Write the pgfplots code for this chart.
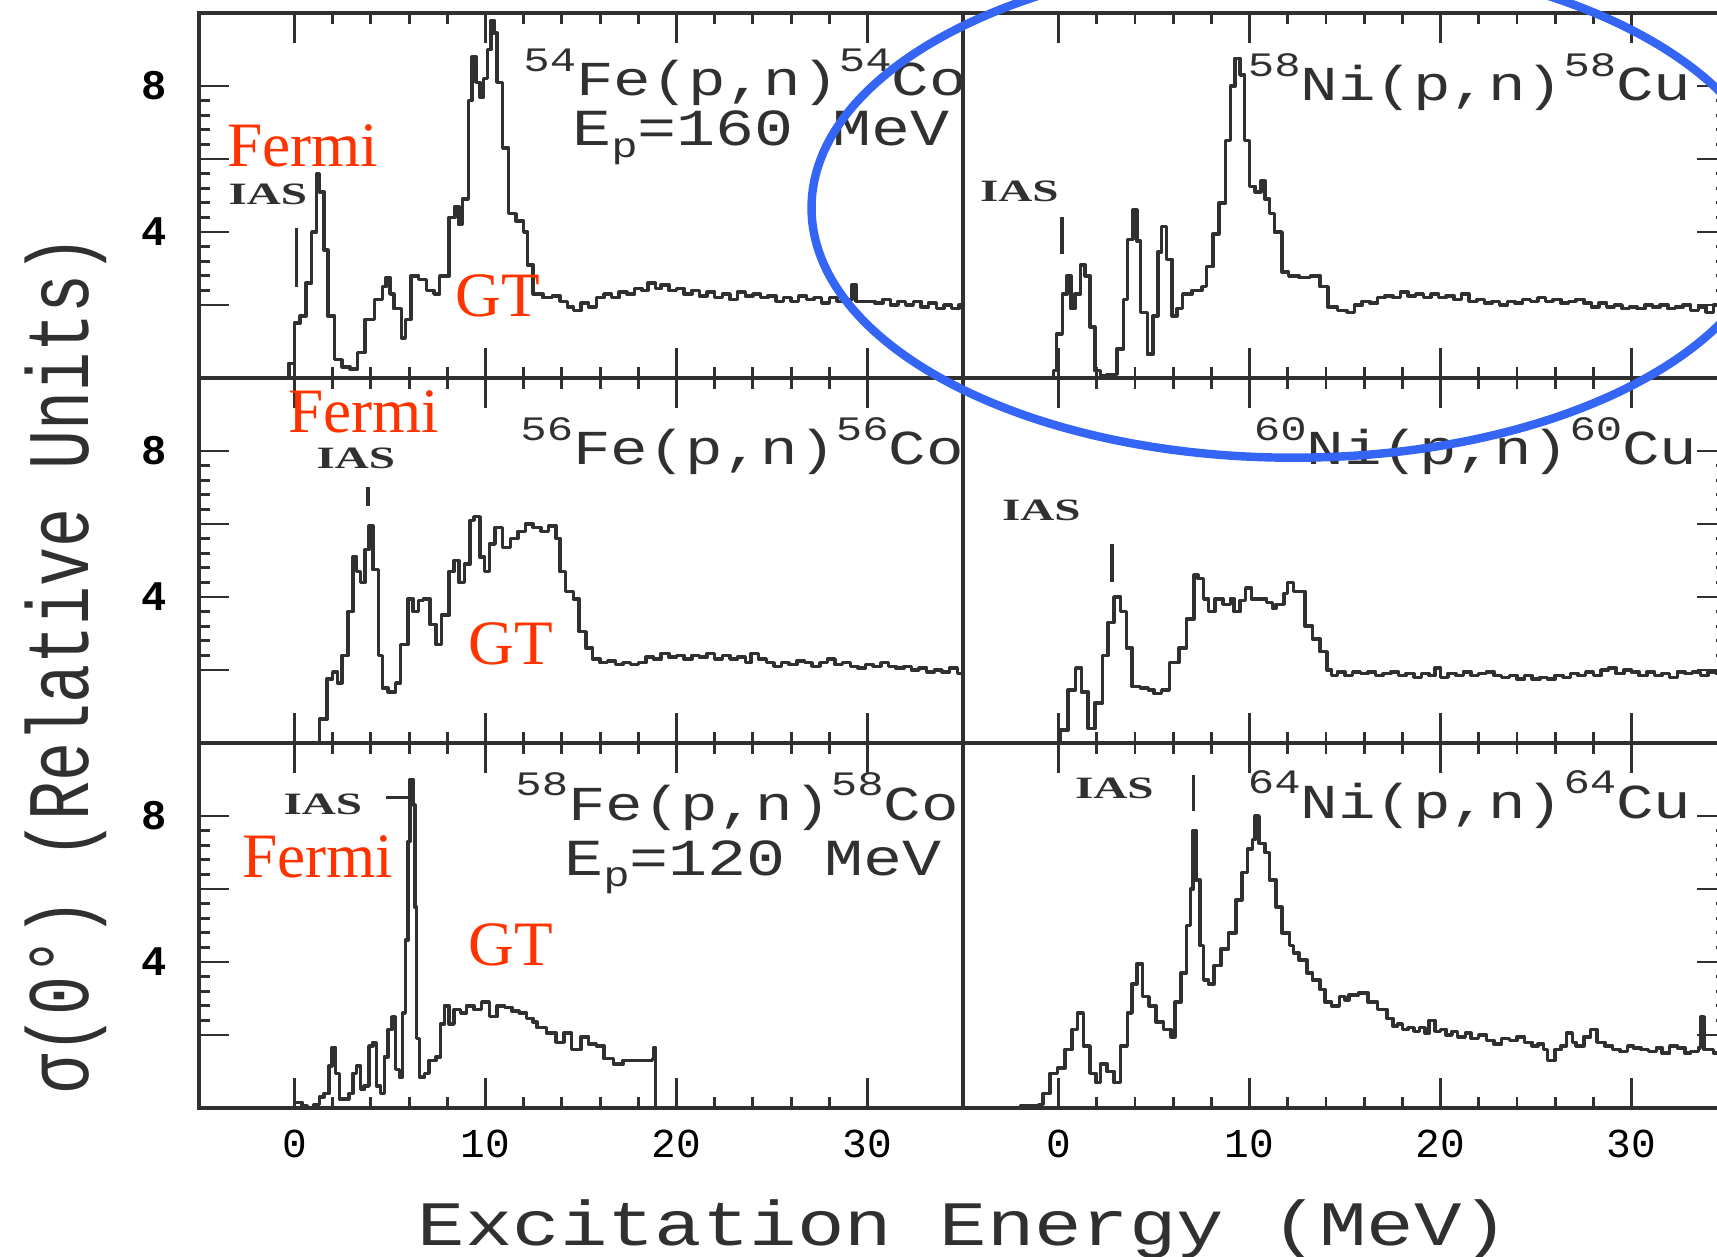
\documentclass[border=0pt]{standalone}
\usepackage{fontspec}
\setmainfont{Liberation Serif}
\newfontfamily\mono{Liberation Mono}
\usepackage{pgfplots}
\pgfplotsset{compat=1.18}

\definecolor{ink}{HTML}{303030}
\definecolor{note}{RGB}{255,51,0}
\definecolor{ring}{RGB}{52,101,245}

% superscript mass number, reaction label, beam energy
\newcommand\iso[1]{\raisebox{9pt}{\fontsize{12.5}{13}\selectfont #1}}
\newcommand\reac[4]{\scalebox{1}[0.78]{\mono\fontsize{17.8}{18}\selectfont\iso{#1}#2(p,n)\iso{#1}#3}}
\newcommand\beam[1]{\scalebox{1}[0.8]{\mono\fontsize{18.5}{19}\selectfont E\raisebox{-4pt}{\fontsize{12.5}{13}\selectfont p}=#1 MeV}}
\newcommand\ias{\scalebox{1}[0.66]{\bfseries\fontsize{13.4}{14}\selectfont IAS}}

\tikzset{mark line/.style={ink, line width=0.9pt}}
\pgfplotsset{
  panel/.style={
    scale only axis, width=7.64cm, height=3.65cm, anchor=south west,
    xmin=-5, xmax=35, ymin=0, ymax=10,
    xtick={0,10,20,30}, ytick={2,4,6,8}, minor tick num=4,
    tick align=inside, major tick length=0.3cm, minor tick length=0.11cm,
    axis line style={ink, line width=1.1pt},
    every tick/.style={ink, line width=0.8pt},
    xticklabels={}, yticklabels={},
    xticklabel style={font=\mono\fontsize{11.7}{12}\selectfont, yshift=-0.1cm},
    yticklabel style={font=\mono\bfseries\fontsize{12}{12}\selectfont, xshift=-0.2cm},
  },
  spec/.style={const plot, no marks, ink, line width=1pt, line join=round},
}

\begin{document}
\begin{tikzpicture}
% ---------- top left: 54Fe ----------
\begin{axis}[panel, at={(1.99cm,8.79cm)}, ytick pos=left, yticklabels={,4,,8}]
\addplot[spec] coordinates {
(-0.5,0) (-0.3,0.4) (0,1.5) (0.3,1.7) (0.6,2.6) (0.9,4.0) (1.15,5.6) (1.3,5.1)
(1.55,3.5) (1.75,1.7) (2.1,0.5) (2.5,0.3) (2.9,0.25) (3.3,0.7) (3.7,1.6) (4.2,2.15)
(4.6,2.5) (4.8,2.75) (5.0,2.3) (5.2,1.9) (5.6,1.1) (5.8,1.6) (6.1,2.8) (6.5,2.7)
(6.9,2.4) (7.3,2.3) (7.6,2.8) (8.1,4.4) (8.4,4.7) (8.6,4.2) (8.8,4.9) (9.1,7.6)
(9.3,8.8) (9.5,8.1) (9.7,7.7) (9.9,8.2) (10.1,9.0) (10.3,9.8) (10.45,9.45) (10.6,8.1)
(10.9,6.3) (11.2,4.5) (11.6,4.3) (12.0,4.0) (12.2,3.1) (12.5,2.3) (13.0,2.2) (13.5,2.25)
(13.9,2.1) (14.3,1.95) (14.6,1.85) (15.0,2.05) (15.4,1.95) (15.8,2.2) (16.2,2.3) (16.6,2.2)
(17.0,2.35) (17.4,2.3) (17.8,2.45) (18.2,2.4) (18.5,2.6) (18.9,2.45) (19.2,2.55) (19.6,2.4)
(20.0,2.45) (20.4,2.3) (20.8,2.4) (21.2,2.25) (21.6,2.35) (22.0,2.2) (22.4,2.3) (22.8,2.15)
(23.2,2.35) (23.6,2.25) (24.0,2.3) (24.4,2.2) (24.8,2.25) (25.2,2.1) (25.6,2.2) (26.0,2.1)
(26.4,2.25) (26.8,2.15) (27.2,2.2) (27.6,2.05) (28.0,2.2) (28.4,2.1) (28.8,2.15) (29.2,2.55)
(29.4,2.1) (30.0,2.1) (30.4,2.05) (30.8,2.15) (31.2,2.0) (31.6,2.1) (32.0,2.0) (32.4,2.1)
(32.8,1.95) (33.2,2.05) (33.6,1.9) (34.0,2.0) (34.4,1.9) (34.8,2.0) (35,2.4)};
\draw[mark line] (axis cs:0.1,2.5) -- (axis cs:0.1,4.1);
\end{axis}
% ---------- top right: 58Ni ----------
\begin{axis}[panel, at={(9.63cm,8.79cm)}, ytick pos=right]
\addplot[spec] coordinates {
(-0.5,0) (-0.25,0.2) (-0.1,1.2) (0.2,2.3) (0.45,2.8) (0.65,1.9) (0.85,2.3) (1.15,3.1)
(1.4,2.8) (1.65,1.4) (1.9,0.2) (2.2,0.05) (2.55,0.1) (3.05,0.8) (3.4,2.15) (3.6,3.8)
(3.9,4.6) (4.1,3.75) (4.3,1.8) (4.65,0.65) (4.95,1.7) (5.2,3.45) (5.4,4.15) (5.65,3.25)
(5.95,1.7) (6.2,1.9) (6.5,2.3) (7.0,2.4) (7.5,2.5) (7.75,3.05) (8.1,3.95) (8.4,4.8)
(8.75,6.5) (9.0,8.0) (9.25,8.75) (9.5,8.3) (9.75,6.5) (10.0,5.25) (10.3,5.1) (10.6,5.4)
(10.8,4.9) (11.05,4.5) (11.3,4.0) (11.7,2.9) (12.05,2.8) (12.6,2.75) (13.2,2.8) (13.7,2.5)
(14.1,1.95) (14.6,1.85) (15.1,1.8) (15.5,2.0) (15.9,2.1) (16.3,2.05) (16.7,2.2) (17.1,2.25)
(17.5,2.2) (17.9,2.35) (18.3,2.25) (18.7,2.3) (19.1,2.2) (19.5,2.3) (19.9,2.2) (20.3,2.25)
(20.7,2.15) (21.1,2.3) (21.5,2.1) (21.9,2.15) (22.3,2.05) (22.7,2.1) (23.1,2.0) (23.5,2.1)
(23.9,2.05) (24.3,2.15) (24.7,2.1) (25.1,2.2) (25.5,2.1) (25.9,2.15) (26.3,2.05) (26.7,2.1)
(27.1,2.15) (27.5,2.05) (27.9,1.95) (28.3,2.05) (28.7,1.95) (29.1,2.0) (29.5,1.9) (29.9,1.95)
(30.3,1.9) (30.7,2.0) (31.1,1.95) (31.5,2.0) (31.9,1.9) (32.3,1.95) (32.7,2.0) (33.1,1.85)
(33.5,1.95) (33.9,1.8) (34.3,2.0) (34.7,1.9) (35,1.95)};
\draw[mark line] (axis cs:0.18,3.4) -- (axis cs:0.18,4.4);
\end{axis}
% ---------- middle left: 56Fe ----------
\begin{axis}[panel, at={(1.99cm,5.14cm)}, ytick pos=left, yticklabels={,4,,8}]
\addplot[spec] coordinates {
(-5,0) (0.9,0) (1.3,0.65) (1.7,1.75) (2.0,1.95) (2.25,1.65) (2.5,2.4) (2.8,3.6) (3.05,5.1)
(3.25,4.7) (3.45,4.4) (3.7,5.3) (3.9,5.95) (4.1,4.75) (4.4,2.4) (4.6,1.5) (4.9,1.4)
(5.3,1.65) (5.55,2.7) (5.95,3.95) (6.2,3.6) (6.5,3.9) (6.75,3.95) (7.1,3.25) (7.4,2.7)
(7.7,3.5) (8.1,4.7) (8.35,5.0) (8.6,4.4) (8.9,4.9) (9.2,6.1) (9.4,6.2) (9.7,5.1)
(9.95,4.7) (10.2,5.45) (10.5,5.9) (10.9,5.35) (11.3,5.6) (11.7,5.8) (12.1,6.0) (12.5,5.9)
(12.9,5.8) (13.3,5.95) (13.7,5.6) (13.9,4.7) (14.2,4.15) (14.6,3.95) (14.9,3.05) (15.25,2.6)
(15.6,2.3) (16.0,2.2) (16.4,2.25) (16.8,2.15) (17.2,2.2) (17.6,2.15) (18.0,2.2) (18.4,2.35)
(18.8,2.3) (19.2,2.45) (19.6,2.35) (20.0,2.4) (20.4,2.3) (20.8,2.4) (21.2,2.35) (21.6,2.45)
(22.0,2.3) (22.4,2.4) (22.8,2.3) (23.2,2.35) (23.6,2.2) (23.9,2.45) (24.3,2.3) (24.7,2.2)
(25.1,2.1) (25.5,2.2) (25.9,2.15) (26.3,2.25) (26.7,2.2) (27.1,2.1) (27.5,2.2) (27.9,2.3)
(28.3,2.15) (28.7,2.2) (29.1,2.1) (29.5,2.05) (29.9,2.15) (30.3,2.1) (30.7,2.2) (31.1,2.1)
(31.5,2.05) (31.9,2.1) (32.3,2.0) (32.7,2.05) (33.1,1.95) (33.5,2.0) (33.9,1.95) (34.3,2.05)
(34.7,1.9) (35,2.0)};
\draw[mark line] (axis cs:3.85,6.5) -- (axis cs:3.85,7.0);
\end{axis}
% ---------- middle right: 60Ni ----------
\begin{axis}[panel, at={(9.63cm,5.14cm)}, ytick pos=right]
\addplot[spec] coordinates {
(-5,0) (-0.15,0) (0.1,0.35) (0.5,1.45) (0.9,2.05) (1.2,1.4) (1.55,0.4) (1.9,1.1) (2.3,2.4)
(2.6,3.3) (2.9,4.0) (3.25,3.6) (3.55,2.6) (3.85,1.55) (4.3,1.5) (4.7,1.45) (5.0,1.35)
(5.4,1.45) (5.8,2.2) (6.3,2.6) (6.7,3.4) (7.1,4.6) (7.3,4.5) (7.6,3.95) (7.85,3.6)
(8.2,3.95) (8.6,3.8) (9.0,3.95) (9.2,3.6) (9.5,3.9) (9.8,4.25) (10.1,3.95) (10.5,3.95)
(10.9,3.85) (11.2,3.7) (11.4,3.8) (11.8,4.1) (12.0,4.4) (12.3,4.15) (12.7,4.15) (12.9,3.2)
(13.3,2.85) (13.7,2.5) (14.05,2.0) (14.3,1.85) (14.6,1.95) (15.0,1.85) (15.4,1.95) (15.8,1.9)
(16.2,1.95) (16.6,1.85) (17.0,1.9) (17.4,1.95) (17.8,1.85) (18.2,1.9) (18.6,1.8) (19.0,1.9)
(19.4,1.85) (19.7,2.05) (20.0,1.8) (20.4,1.9) (20.8,1.85) (21.2,1.95) (21.6,1.85) (22.0,1.9)
(22.4,1.95) (22.8,1.85) (23.2,1.8) (23.6,1.85) (24.0,1.75) (24.4,1.85) (24.8,1.75) (25.2,1.8)
(25.6,1.75) (26.0,1.85) (26.4,1.8) (26.8,1.9) (27.2,1.85) (27.6,1.95) (28.0,1.85) (28.4,2.0)
(28.8,2.05) (29.2,1.9) (29.6,2.0) (30.0,1.95) (30.4,1.85) (30.8,1.95) (31.2,1.85) (31.6,1.9)
(32.0,1.8) (32.4,1.95) (32.8,1.9) (33.2,1.95) (33.6,1.85) (34.0,1.95) (34.4,1.9) (35,1.9)};
\draw[mark line] (axis cs:2.8,4.4) -- (axis cs:2.8,5.45);
\end{axis}
% ---------- bottom left: 58Fe ----------
\begin{axis}[panel, at={(1.99cm,1.49cm)}, ytick pos=left, yticklabels={,4,,8},
  xticklabels={0,10,20,30}]
\addplot[spec] coordinates {
(-5,0) (0,0.15) (0.4,0.05) (0.65,0) (1.0,0.1) (1.3,0.3) (1.55,0.4) (1.8,1.15) (1.95,1.65)
(2.15,0.95) (2.35,0.25) (2.6,0.25) (2.85,0.4) (3.05,0.95) (3.25,1.15) (3.45,0.5) (3.65,0.6)
(3.9,1.7) (4.1,1.8) (4.3,0.6) (4.5,0.4) (4.7,1.4) (4.9,2.15) (5.1,2.5) (5.3,1.05)
(5.5,0.85) (5.65,2.6) (5.8,4.6) (5.95,7.3) (6.05,9.0) (6.2,8.3) (6.3,5.5) (6.4,1.9)
(6.55,0.85) (6.8,0.95) (7.05,1.3) (7.4,1.4) (7.65,2.3) (7.85,2.8) (8.1,2.3) (8.35,2.7)
(8.7,2.6) (9.0,2.8) (9.4,2.7) (9.8,2.9) (10.2,2.5) (10.6,2.8) (11.0,2.75) (11.4,2.65)
(11.75,2.6) (12.15,2.45) (12.5,2.35) (12.7,2.2) (13.2,2.05) (13.7,1.8) (14.1,2.05) (14.5,1.6)
(15.0,1.95) (15.4,1.75) (15.8,1.7) (16.2,1.35) (16.7,1.2) (17.2,1.3) (17.75,1.3) (18.3,1.3)
(18.75,1.35) (18.8,1.65) (18.9,0) (35,0)};
\draw[mark line] (axis cs:4.8,8.5) -- (axis cs:6.0,8.5);
\end{axis}
% ---------- bottom right: 64Ni ----------
\begin{axis}[panel, at={(9.63cm,1.49cm)}, ytick pos=right, xticklabels={0,10,20,30}]
\addplot[spec] coordinates {
(-5,0) (-2,0.05) (-1.45,0.05) (-1.05,0.1) (-0.8,0.4) (-0.45,0.95) (-0.05,1.1) (0.35,1.6) (0.7,2.15)
(1.0,2.6) (1.3,1.7) (1.65,0.95) (1.95,0.7) (2.2,1.2) (2.55,1.0) (2.9,0.7) (3.25,1.7)
(3.6,2.6) (3.85,3.4) (4.1,3.95) (4.4,3.05) (4.75,2.8) (5.1,2.35) (5.5,2.15) (5.9,1.95)
(6.1,2.9) (6.4,3.7) (6.7,5.0) (6.9,6.0) (7.05,7.6) (7.2,6.25) (7.4,4.45) (7.6,3.5)
(7.85,3.4) (8.15,3.9) (8.5,4.35) (8.9,4.8) (9.3,5.7) (9.6,6.45) (9.9,7.1) (10.15,7.35)
(10.3,8.0) (10.5,7.25) (10.8,7.0) (11.05,6.25) (11.4,5.5) (11.7,4.8) (12.1,4.45) (12.3,4.25)
(12.6,4.05) (13.0,3.7) (13.3,3.5) (13.7,3.25) (13.95,2.9) (14.3,2.8) (14.7,3.05) (15.0,2.95)
(15.2,3.1) (15.7,3.15) (16.2,2.9) (16.7,2.7) (17.2,2.45) (17.5,2.25) (17.75,2.3) (18.0,2.15)
(18.3,2.2) (18.6,2.1) (18.9,2.2) (19.2,2.05) (19.4,2.4) (19.7,2.1) (20.0,2.15) (20.3,2.0)
(20.6,2.1) (20.9,1.95) (21.3,2.05) (21.6,1.9) (22.0,2.0) (22.4,1.85) (22.8,1.75) (23.2,1.9)
(23.6,1.85) (24.0,1.95) (24.4,1.8) (24.8,1.7) (25.1,1.75) (25.4,1.6) (25.6,1.3) (26.0,1.6)
(26.3,1.7) (26.6,2.05) (26.9,1.8) (27.1,1.7) (27.5,1.95) (27.85,2.15) (28.2,1.8) (28.6,1.7)
(29.0,1.6) (29.4,1.55) (29.8,1.7) (30.1,1.65) (30.5,1.6) (30.9,1.55) (31.3,1.65) (31.6,1.5)
(32.0,1.7) (32.4,1.65) (32.8,1.5) (33.1,1.55) (33.5,1.65) (33.6,2.5) (33.8,1.6) (34.3,1.5)
(34.7,1.55) (35,1.5)};
\draw[mark line] (axis cs:7.07,8.13) -- (axis cs:7.07,9.13);
\end{axis}

% ---------- annotations, in reference pixel units ----------
\begin{scope}[shift={(0,12.57cm)}, x=0.01cm, y=-0.01cm]
  % reaction labels
  \node[anchor=base west, inner sep=0, ink] at (523,96) {\reac{54}{Fe}{Co}{}};
  \node[anchor=base west, inner sep=0, ink] at (572,146) {\beam{160}};
  \node[anchor=base west, inner sep=0, ink] at (1248,101) {\reac{58}{Ni}{Cu}{}};
  \node[anchor=base west, inner sep=0, ink] at (520,465) {\reac{56}{Fe}{Co}{}};
  \node[anchor=base west, inner sep=0, ink] at (1254,465) {\reac{60}{Ni}{Cu}{}};
  \node[anchor=base west, inner sep=0, ink] at (515,821) {\reac{58}{Fe}{Co}{}};
  \node[anchor=base west, inner sep=0, ink] at (564,876) {\beam{120}};
  \node[anchor=base west, inner sep=0, ink] at (1248,819) {\reac{64}{Ni}{Cu}{}};
  % IAS labels
  \node[ink, inner sep=0] at (268,195) {\ias};
  \node[ink, inner sep=0] at (1020,192) {\ias};
  \node[ink, inner sep=0] at (356,459) {\ias};
  \node[ink, inner sep=0] at (1042,511) {\ias};
  \node[ink, inner sep=0] at (323,805) {\ias};
  \node[ink, inner sep=0] at (1115,789) {\ias};
  % Fermi / GT
  \begin{scope}[every node/.style={note, inner sep=0, font=\fontsize{18}{18}\selectfont}]
    \node at (303,146) {Fermi};
    \node at (498,296) {GT};
    \node at (364,412) {Fermi};
    \node at (511,644) {GT};
    \node at (318,857) {Fermi};
    \node at (511,945) {GT};
  \end{scope}
  % axis titles
  \node[ink, inner sep=0] at (964,1230)
    {\scalebox{1}[0.8]{\mono\fontsize{22.5}{23}\selectfont Excitation Energy (MeV)}};
  \node[ink, inner sep=0, rotate=90] at (66,665)
    {\scalebox{1}[1.35]{\mono\fontsize{18.5}{19}\selectfont σ(0°) (Relative Units)}};
  % blue ring
  \draw[ring, line width=2.4pt] (1294,208) ellipse [x radius=482, y radius=250];
\end{scope}

\pgfresetboundingbox
\useasboundingbox (0,0) rectangle (17.17,12.57);
\end{tikzpicture}
\end{document}
